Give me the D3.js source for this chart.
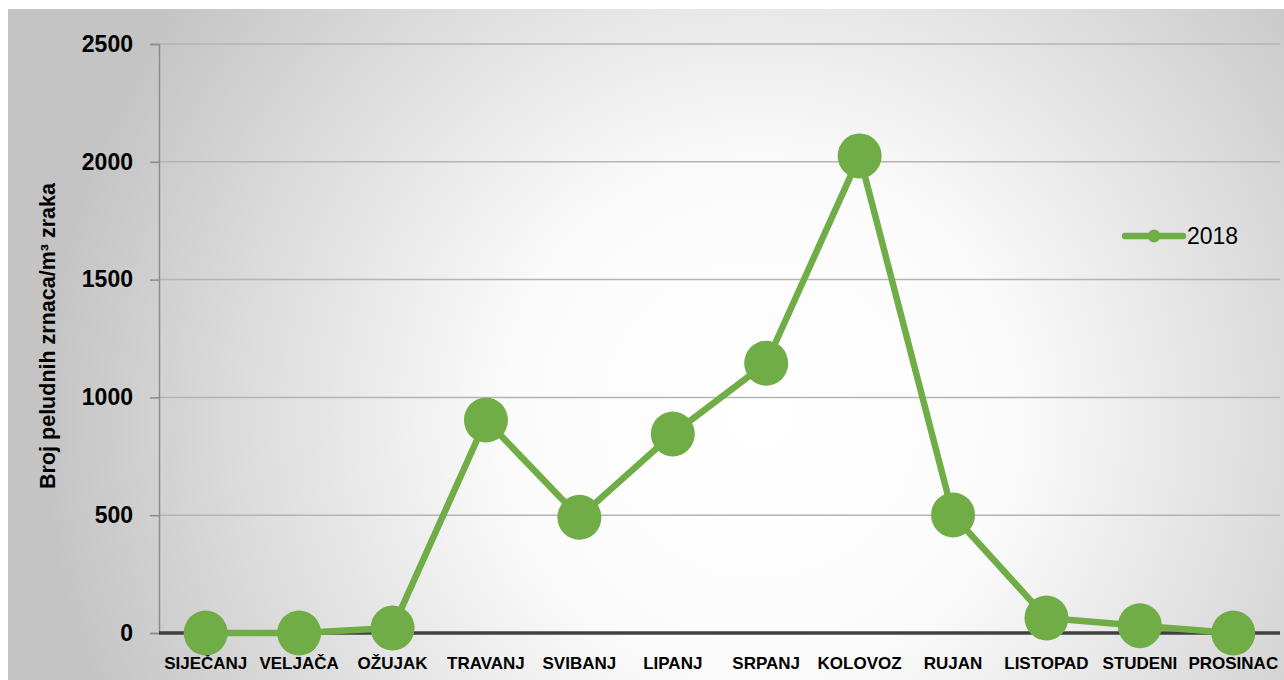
<!DOCTYPE html>
<html>
<head>
<meta charset="utf-8">
<script src="https://cdn.jsdelivr.net/npm/d3@7"></script>
<style>
  body { margin: 0; background: #fff; }
  svg { display: block; }
</style>
</head>
<body>
<div id="chart"></div>
<script>
var months = ["SIJE\u010CANJ", "VELJA\u010CA", "O\u017DUJAK", "TRAVANJ", "SVIBANJ", "LIPANJ",
              "SRPANJ", "KOLOVOZ", "RUJAN", "LISTOPAD", "STUDENI", "PROSINAC"];
var values2018 = [0, 0, 21, 904, 491, 845, 1145, 2025, 501, 64, 31, 0];
var yTicks = [0, 500, 1000, 1500, 2000, 2500];
var seriesName = "2018";

var W = 1284, H = 680;
var margin = { left: 159, right: 4, top: 44, bottom: 47 };
var width = W - margin.left - margin.right;
var height = H - margin.top - margin.bottom;
var green = "#70ad47";
var font = "Liberation Sans, Arial, sans-serif";

var svg = d3.select("#chart").append("svg")
    .attr("width", W)
    .attr("height", H);

var defs = svg.append("defs");
var grad = defs.append("radialGradient")
    .attr("id", "bg")
    .attr("gradientUnits", "userSpaceOnUse")
    .attr("cx", 760).attr("cy", 420).attr("r", 720);
grad.append("stop").attr("offset", "0%").attr("stop-color", "#ffffff");
grad.append("stop").attr("offset", "35%").attr("stop-color", "#fbfbfb");
grad.append("stop").attr("offset", "100%").attr("stop-color", "#c4c4c4");

svg.append("rect")
    .attr("x", 8).attr("y", 9)
    .attr("width", W - 8).attr("height", H - 9)
    .attr("fill", "url(#bg)");

var g = svg.append("g")
    .attr("transform", "translate(" + margin.left + "," + margin.top + ")");

var x = d3.scalePoint().domain(months).range([0, width]).padding(0.5);
var y = d3.scaleLinear().domain([0, 2500]).range([height, 0]);

// gridlines
g.selectAll(".grid")
    .data(yTicks.filter(function(d) { return d > 0; }))
    .enter().append("line")
    .attr("x1", 0).attr("x2", width)
    .attr("y1", function(d) { return y(d); })
    .attr("y2", function(d) { return y(d); })
    .attr("stroke", "#b4b4b4")
    .attr("stroke-width", 1.5);

// y axis
var yAxis = g.append("g")
    .call(d3.axisLeft(y).tickValues(yTicks).tickSize(9).tickPadding(17).tickFormat(d3.format("d")));
yAxis.select(".domain").attr("stroke", "#8c8c8c").attr("stroke-width", 1.5);
yAxis.selectAll(".tick line").attr("stroke", "#8c8c8c").attr("stroke-width", 1.5);
yAxis.selectAll(".tick text")
    .style("font-family", font)
    .style("font-weight", "bold")
    .style("font-size", "23px")
    .attr("fill", "#000");

// x axis baseline
g.append("line")
    .attr("x1", 0).attr("x2", width)
    .attr("y1", y(0)).attr("y2", y(0))
    .attr("stroke", "#404040")
    .attr("stroke-width", 3.5);

g.selectAll(".xlabel")
    .data(months)
    .enter().append("text")
    .attr("class", "xlabel")
    .attr("x", function(d) { return x(d); })
    .attr("y", height + 36)
    .attr("text-anchor", "middle")
    .style("font-family", font)
    .style("font-weight", "bold")
    .style("font-size", "17px")
    .text(function(d) { return d; });

// y axis title
svg.append("text")
    .attr("transform", "translate(55,336) rotate(-90)")
    .attr("text-anchor", "middle")
    .style("font-family", font)
    .style("font-weight", "bold")
    .style("font-size", "21.5px")
    .text("Broj peludnih zrnaca/m\u00B3 zraka");

// line + markers
g.append("path")
    .datum(values2018)
    .attr("fill", "none")
    .attr("stroke", green)
    .attr("stroke-width", 6.5)
    .attr("stroke-linejoin", "round")
    .attr("d", d3.line()
        .x(function(d, i) { return x(months[i]); })
        .y(function(d) { return y(d); }));

g.selectAll(".dot")
    .data(values2018)
    .enter().append("ellipse")
    .attr("class", "dot")
    .attr("cx", function(d, i) { return x(months[i]); })
    .attr("cy", function(d) { return y(d); })
    .attr("rx", 22)
    .attr("ry", 22.5)
    .attr("fill", green);

// legend
var leg = svg.append("g").attr("transform", "translate(1125,236)");
leg.append("line")
    .attr("x1", 0).attr("x2", 58)
    .attr("stroke", green).attr("stroke-width", 6.5)
    .attr("stroke-linecap", "round");
leg.append("circle").attr("cx", 29).attr("r", 6.5).attr("fill", green);
leg.append("text")
    .attr("x", 62).attr("y", 8)
    .style("font-family", font)
    .style("font-size", "23px")
    .text(seriesName);
</script>
</body>
</html>
